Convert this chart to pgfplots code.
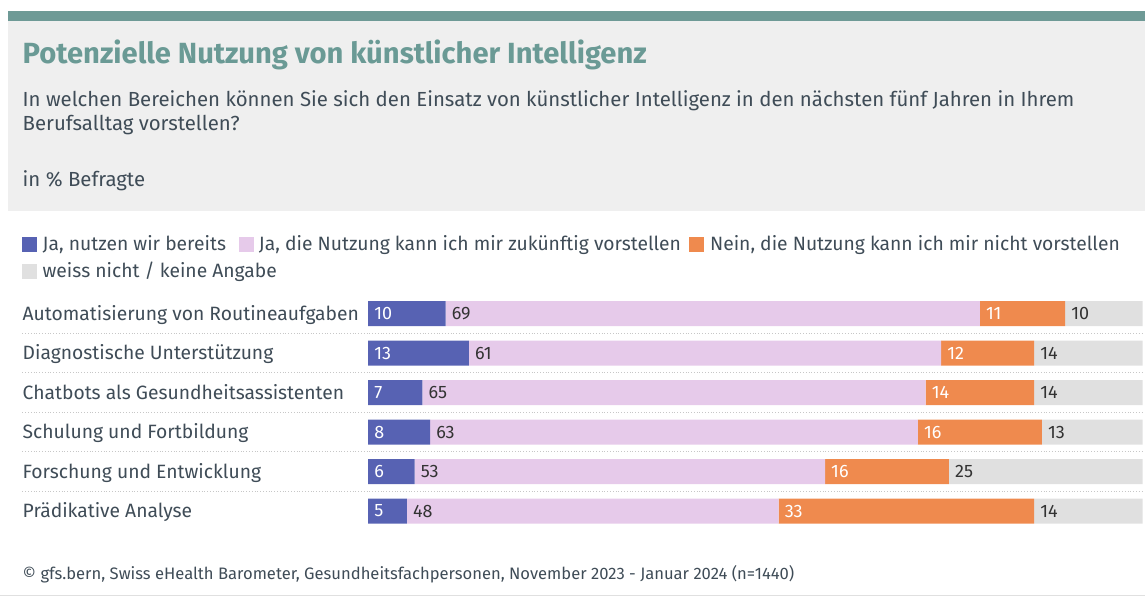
\documentclass[border=0pt]{standalone}
\usepackage{fontspec}
\setmainfont{Fira Sans}
\usepackage{pgfplots}
\pgfplotsset{compat=1.18}
\definecolor{teal1}{HTML}{6E9A96}
\definecolor{titlec}{HTML}{6A9A95}
\definecolor{bgc}{HTML}{EFEFEF}
\definecolor{txt}{HTML}{3F4C57}
\definecolor{cblue}{HTML}{5762B3}
\definecolor{cpink}{HTML}{E6CAEA}
\definecolor{corange}{HTML}{EF8A4E}
\definecolor{cgray}{HTML}{E0E0E0}
\definecolor{vtxt}{HTML}{333333}
\begin{document}
\begin{tikzpicture}[x=1pt,y=1pt]
\path (0,0) rectangle (1145,597);
% header
\fill[bgc] (8,386) rectangle (1145,576);
\fill[teal1] (8,576) rectangle (1145,586);
\node[anchor=base west,inner sep=0,text=titlec,font=\fontsize{29.2}{33}\selectfont\bfseries] at (22,533) {Potenzielle Nutzung von künstlicher Intelligenz};
\node[anchor=base west,inner sep=0,text=txt,font=\fontsize{20.4}{24}\selectfont] at (22,490) {In welchen Bereichen können Sie sich den Einsatz von künstlicher Intelligenz in den nächsten fünf Jahren in Ihrem};
\node[anchor=base west,inner sep=0,text=txt,font=\fontsize{20.4}{24}\selectfont] at (22,466) {Berufsalltag vorstellen?};
\node[anchor=base west,inner sep=0,text=txt,font=\fontsize{20.4}{24}\selectfont] at (22,410.5) {in \% Befragte};
% legend
\begin{scope}[font=\fontsize{19.3}{23}\selectfont]
\fill[cblue] (22,345) rectangle (37,360);
\node[anchor=base west,inner sep=0,text=txt] at (42,346) {Ja, nutzen wir bereits};
\fill[cpink] (239,345) rectangle (254,360);
\node[anchor=base west,inner sep=0,text=txt] at (258.5,346) {Ja, die Nutzung kann ich mir zukünftig vorstellen};
\fill[corange] (689,345) rectangle (704,360);
\node[anchor=base west,inner sep=0,text=txt] at (710,346) {Nein, die Nutzung kann ich mir nicht vorstellen};
\fill[cgray] (22,318) rectangle (37,333);
\node[anchor=base west,inner sep=0,text=txt] at (42,319) {weiss nicht / keine Angabe};
\end{scope}
% separators
\foreach \yy in {263.5,224,184.5,145,105.5} {
  \draw[black!22, dotted, line width=0.8pt] (22,\yy) -- (1143,\yy);
}
\begin{axis}[
  at={(368pt,65.75pt)}, anchor=south west,
  scale only axis, width=775pt, height=237pt,
  xbar stacked, bar width=25pt,
  xmin=0, xmax=100, ymin=-0.5, ymax=5.5, y dir=reverse,
  axis line style={draw=none},
  xtick=\empty,
  ytick={0,...,5},
  yticklabels={Automatisierung von Routineaufgaben,Diagnostische Unterstützung,Chatbots als Gesundheitsassistenten,Schulung und Fortbildung,Forschung und Entwicklung,Prädikative Analyse},
  major tick length=0pt,
  yticklabel style={anchor=base west, xshift=-346pt, yshift=-6.5pt, text=txt, font=\fontsize{19.3}{23}\selectfont, inner sep=0pt},
  /pgf/number format/assume math mode=true,
  nodes near coords,
  visualization depends on={rawx \as \rawx},
  every node near coord/.append style={anchor=west, inner sep=0pt, font=\fontsize{18}{20}\selectfont, xshift={(-\rawx*3.875+6)*1pt}},
  point meta=rawx,
]
\addplot[fill=cblue, draw=none, nodes near coords style={text=white}] coordinates {(10,0) (13,1) (7,2) (8,3) (6,4) (5,5)};
\addplot[fill=cpink, draw=none, nodes near coords style={text=vtxt}] coordinates {(69,0) (61,1) (65,2) (63,3) (53,4) (48,5)};
\addplot[fill=corange, draw=none, nodes near coords style={text=white}] coordinates {(11,0) (12,1) (14,2) (16,3) (16,4) (33,5)};
\addplot[fill=cgray, draw=none, nodes near coords style={text=vtxt}] coordinates {(10,0) (14,1) (14,2) (13,3) (25,4) (14,5)};
\end{axis}
\node[anchor=base west,inner sep=0,text=txt,font=\fontsize{16.6}{19}\selectfont] at (22,17) {© gfs.bern, Swiss eHealth Barometer, Gesundheitsfachpersonen, November 2023 - Januar 2024 (n=1440)};
\draw[black!12, line width=1pt] (0,1) -- (1145,1);
\end{tikzpicture}
\end{document}
